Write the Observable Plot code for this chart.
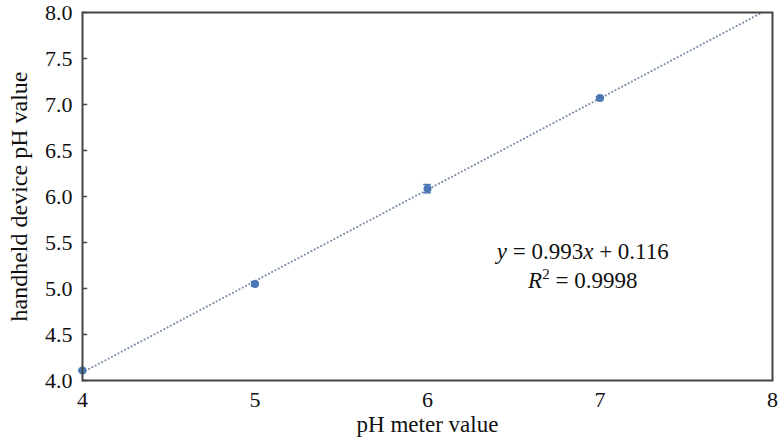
<!DOCTYPE html>
<html>
<head>
<meta charset="utf-8">
<script src="https://cdn.jsdelivr.net/npm/d3@7"></script>
<script src="https://cdn.jsdelivr.net/npm/@observablehq/plot@0.6"></script>
<style>
  html, body { margin: 0; padding: 0; background: #fff; }
  svg { display: block; }
  svg text { font-family: 'Liberation Serif', 'DejaVu Serif', serif !important; fill: #111; }
  svg g[aria-label="y-axis tick label"] text, svg g[aria-label="x-axis tick label"] text { font-size: 22px !important; }
</style>
</head>
<body>
<div id="chart"></div>
<script>
const meterPH = [4, 5, 6, 7];
const devicePH = [4.11, 5.05, 6.085, 7.07];
const devErr = [0.01, 0.025, 0.045, 0.015];
const fitX = [4, 8];
const fitY = [4.088, 8.06];
const yTicks = [4.0, 4.5, 5.0, 5.5, 6.0, 6.5, 7.0, 7.5, 8.0];
const xTicks = [4, 5, 6, 7, 8];

const pts = meterPH.map((x, i) => ({x, y: devicePH[i], e: devErr[i]}));
const fit = fitX.map((x, i) => ({x, y: fitY[i]}));
const capW = 0.022;
const blue = "#4b78b4";

const plot = Plot.plot({
  width: 778,
  height: 447,
  marginLeft: 82,
  marginRight: 6,
  marginTop: 12,
  marginBottom: 67,
  style: {fontFamily: "'Liberation Serif', serif", fontSize: "22px", color: "#111", background: "#fff"},
  x: {domain: [4, 8]},
  y: {domain: [4, 8]},
  marks: [
    Plot.line(fit, {x: "x", y: "y", stroke: "#7a8ca6", strokeWidth: 2, strokeDasharray: "0.1 3.6", strokeLinecap: "round", clip: true}),
    Plot.ruleX(pts, {x: "x", y1: d => d.y - d.e, y2: d => d.y + d.e, stroke: blue, strokeWidth: 1.5}),
    Plot.ruleY(pts, {y: d => d.y - d.e, x1: d => d.x - capW, x2: d => d.x + capW, stroke: blue, strokeWidth: 1.5}),
    Plot.ruleY(pts, {y: d => d.y + d.e, x1: d => d.x - capW, x2: d => d.x + capW, stroke: blue, strokeWidth: 1.5}),
    Plot.dot(pts, {x: "x", y: "y", r: 4, fill: blue, stroke: "none"}),
    Plot.ruleY(yTicks, {y: d => d, x1: 4, x2: 4.03, stroke: "#444", strokeWidth: 1.5}),
    Plot.frame({stroke: "#444", strokeWidth: 2}),
    Plot.axisY({ticks: yTicks, tickFormat: d3.format(".1f"), tickSize: 0, tickPadding: 10, fontSize: 22, label: null}),
    Plot.axisX({ticks: xTicks, tickFormat: d3.format("d"), tickSize: 0, tickPadding: 11, fontSize: 22, label: null}),
    Plot.text(["handheld device pH value"], {frameAnchor: "left", textAnchor: "middle", dx: -63, rotate: -90, fontSize: 24, text: d => d}),
    Plot.text(["pH meter value"], {frameAnchor: "bottom", dy: 51, fontSize: 23, text: d => d}),
    Plot.text(["eq1"], {x: 6.9, y: 5.40, text: d => d, fontSize: 23, className: "eq1"}),
    Plot.text(["eq2"], {x: 6.9, y: 5.09, text: d => d, fontSize: 23, className: "eq2"})
  ]
});

document.getElementById("chart").appendChild(plot);

const svg = d3.select(plot);
const t1 = svg.select(".eq1 text");
t1.text(null);
t1.append("tspan").attr("font-style", "italic").text("y");
t1.append("tspan").text(" = 0.993");
t1.append("tspan").attr("font-style", "italic").text("x");
t1.append("tspan").text(" + 0.116");
const t2 = svg.select(".eq2 text");
t2.text(null);
t2.append("tspan").attr("font-style", "italic").text("R");
t2.append("tspan").attr("font-size", "15").attr("dy", "-0.55em").text("2");
t2.append("tspan").attr("dy", "0.36em").text(" = 0.9998");
</script>
</body>
</html>
